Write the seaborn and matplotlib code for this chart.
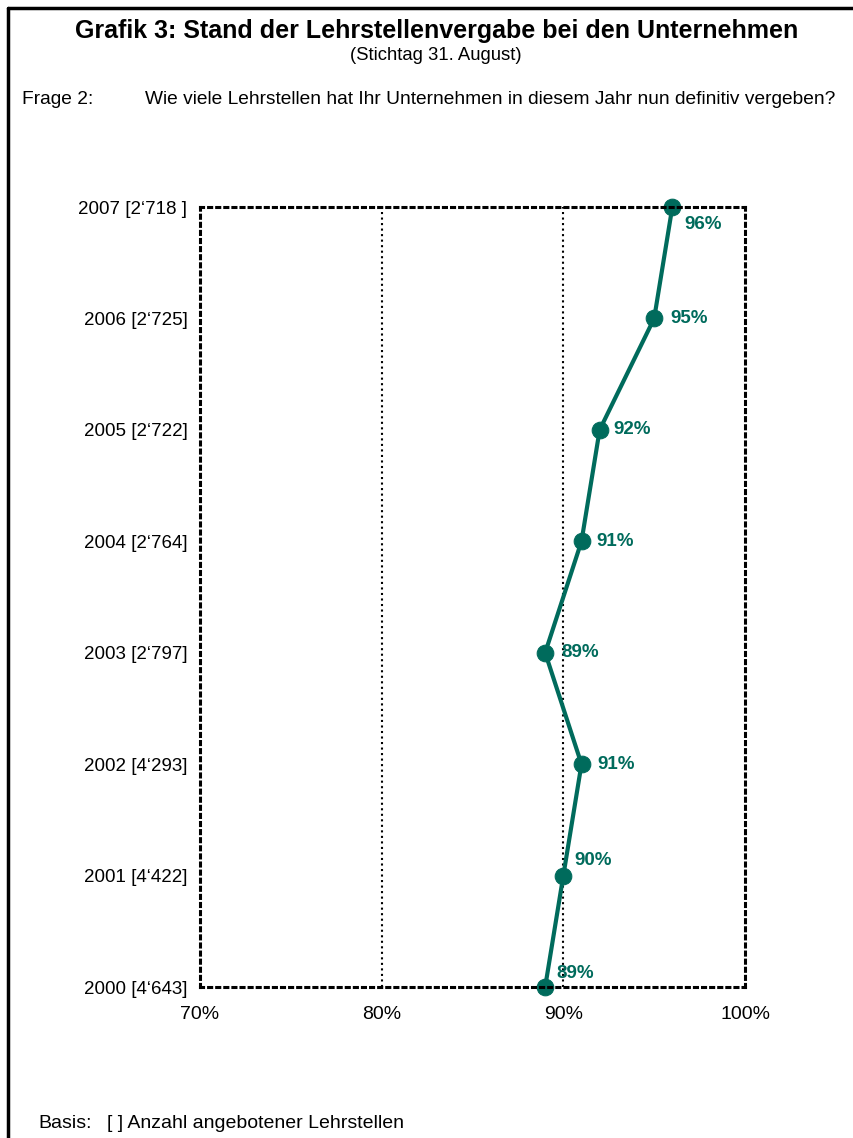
import numpy as np
import matplotlib
matplotlib.use("Agg")
import matplotlib.pyplot as plt
from matplotlib.lines import Line2D
import seaborn as sns

# Daten
jahre = ["2000", "2001", "2002", "2003", "2004", "2005", "2006", "2007"]
basis = ["4‘643", "4‘422", "4‘293", "2‘797", "2‘764", "2‘722", "2‘725", "2‘718 "]
anteil = [89, 90, 91, 89, 91, 92, 95, 96]
# Position der Beschriftung (dx, dy in Pixel)
label_offset = [(11, 14), (11, 15), (16, 0), (16, 0), (15, 0), (14, 0), (16, 0), (12, -17)]

x_ticks = [70, 80, 90, 100]
x_ticklabels = ["70%", "80%", "90%", "100%"]

gruen = "#006b5c"

sns.set_style("white")
plt.rcParams["font.family"] = ["Liberation Sans", "DejaVu Sans"]
plt.rcParams["text.color"] = "black"
plt.rcParams["xtick.color"] = "black"
plt.rcParams["ytick.color"] = "black"

fig = plt.figure(figsize=(8.54, 11.38), dpi=100)
ax = fig.add_axes([200 / 854, 1 - 987 / 1138, 545 / 854, 780 / 1138])

pos = np.arange(len(jahre))
sns.lineplot(x=anteil, y=pos, sort=False, estimator=None, errorbar=None,
             color=gruen, linewidth=3, marker="o", markersize=12,
             markeredgecolor=gruen, ax=ax)

for i, (v, (dx, dy)) in enumerate(zip(anteil, label_offset)):
    ax.annotate(f"{v}%", (v, i), xytext=(dx, dy), textcoords="offset pixels",
                ha="left", va="center", color=gruen, fontsize=13.5,
                fontweight="bold", annotation_clip=False)

ax.set_xlim(70, 100)
ax.set_ylim(0, len(jahre) - 1)
ax.set_xticks(x_ticks)
ax.set_xticklabels(x_ticklabels, fontsize=14)
ax.set_yticks(pos)
ax.set_yticklabels([f"{j} [{b}]" for j, b in zip(jahre, basis)], fontsize=13.5)
ax.tick_params(axis="both", length=0)
ax.tick_params(axis="y", pad=9)
ax.tick_params(axis="x", pad=14)

for xv in [80, 90]:
    ax.axvline(xv, color="black", linestyle=":", linewidth=1.5, zorder=0)

for s in ax.spines.values():
    s.set_visible(True)
    s.set_color("black")
    s.set_linestyle(":")
    s.set_linewidth(2.2)

for line in ax.lines:
    line.set_clip_on(False)

# Rahmen
fig.add_artist(Line2D([8 / 854, 8 / 854], [0, 1 - 8 / 1138], color="black", linewidth=2.5))
fig.add_artist(Line2D([8 / 854, 1], [1 - 8 / 1138, 1 - 8 / 1138], color="black", linewidth=2.5))

fig.text(437 / 854, 1 - 31 / 1138, "Grafik 3: Stand der Lehrstellenvergabe bei den Unternehmen",
         ha="center", va="center", fontsize=18, fontweight="bold")
fig.text(436 / 854, 1 - 55 / 1138, "(Stichtag 31. August)", ha="center", va="center", fontsize=13.3)
fig.text(22 / 854, 1 - 100 / 1138, "Frage 2:", ha="left", va="center", fontsize=13.8)
fig.text(145 / 854, 1 - 100 / 1138,
         "Wie viele Lehrstellen hat Ihr Unternehmen in diesem Jahr nun definitiv vergeben?",
         ha="left", va="center", fontsize=13.8)
fig.text(38 / 854, 1 - 1123 / 1138, "Basis:", ha="left", va="center", fontsize=14)
fig.text(107 / 854, 1 - 1123 / 1138, "[ ] Anzahl angebotener Lehrstellen",
         ha="left", va="center", fontsize=14)

fig.savefig("out.png", dpi=100)
